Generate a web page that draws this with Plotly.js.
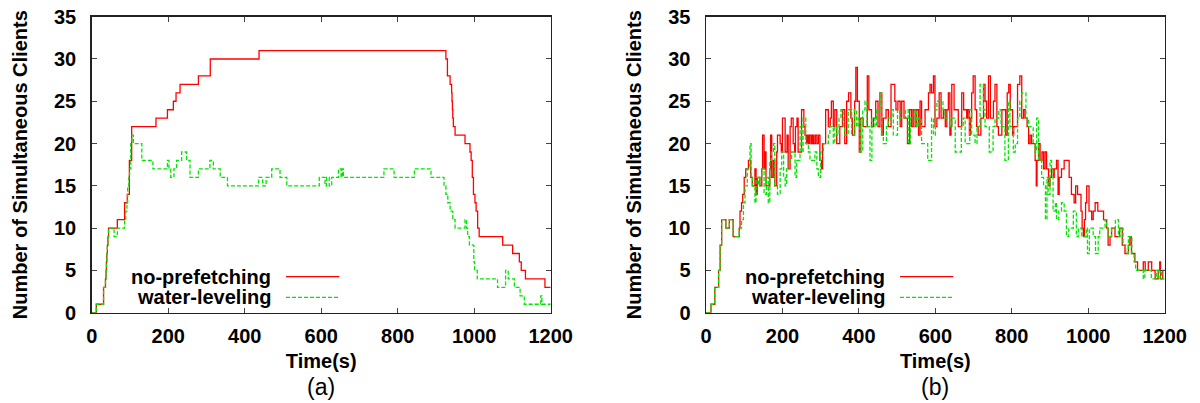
<!DOCTYPE html>
<html>
<head>
<meta charset="utf-8">
<script src="https://cdn.plot.ly/plotly-3.0.1.min.js"></script>
<style>html,body{margin:0;padding:0;background:#fff;}#chart{width:1200px;height:403px;}</style>
</head>
<body>
<div id="chart"></div>
<script>
// ---------- DATA ----------
const seriesNames = ["no-prefetching", "water-leveling"];
const panelLabels = ["(a)", "(b)"];
const xTickVals = [0, 200, 400, 600, 800, 1000, 1200];
const yTickVals = [0, 5, 10, 15, 20, 25, 30, 35];

// Panel (a) no-prefetching
const timeA_np = [0,12,31,36,37.5,38.5,39.5,41,42.5,44,67,86,93,98.5,104.5,168,198,213.5,220.5,231,279,310,437.5,926,930,937,941,942,943,944,945.5,950,976,989,992,995,998,1002,1005,1009,1013,1074.5,1100.5,1118,1123,1134,1185,1200];
const clientsA_np = [0,1,3,4,5,6,7,8,9,10,11,13,14,18,22,23,24,25,26,27,28,30,31,30,28,27,26,25,24,23,22,21,20,19,18,16,14,13,12,10,9,8,7,6,5,4,3,3];

// Panel (a) water-leveling
const timeA_wl = [0,12,31,36,37.5,38.5,39.5,41,42.5,44,58.4,67,86,89,92,94,97,99,102,105,109,131,160,198,202,206.6,215,222,235,248,257,279,309,318,336,355,436,447,456,470.6,492.4,510,595,610,614,621,627.5,645,652,655,658,764,790.5,843.6,887,921,926,931,937,944,950,976,980,983,987.5,999,1001,1008,1061,1082,1089,1105,1120,1131,1174,1177,1200];
const clientsA_wl = [0,1,3,4,5,6,7,8,9,10,9,10,11,12,13,15,16,17,20,21,20,18,17,18,17,16,17,18,19,18,16,17,18,17,16,15,16,15,16,17,16,15,16,15,16,15,16,17,16,17,16,17,16,17,16,15,14,13,12,11,10,11,10,9,8,6,5,4,3,5,4,3,2,1,2,1,1];

// Panel (b) no-prefetching
const timeB_np = [0,13,23,33,37,41,52,61,71,87,89,93,96,100,104,111,117,121,128,131,134,141,146,148,152,154,157,167,169,172,176,180,185,187,194,197,200,207,212,215,220,223,228,232,234,238,241,250,256,259,263,266,269,272,276,279,282,286,290,294,298,302,305,313,320,325,328,333,337,342,350,357,363,368,373,379,383,389,392,396,401,405,411,422,426,433,438,444,450,455,460,464,471,477,484,494,497,502,508,512,518,527,533,538,542,547,551,556,560,564,573,582,586,590,595,599,604,610,615,621,626,630,634,638,641,643,649,660,669,674,682,685,689,692,695,699,704,708,712,719,726,730,734,739,744,752,756,761,765,774,784,788,792,796,802,805,815,821,826,831,835,840,844,848,852,861,864,866,870,874,879,883,887,891,896,900,904,909,911,917,921,924,930,937,950,956,963,967,972,981,984,987,990,993,996,1002,1009,1013,1018,1025,1040,1048,1052,1057,1061,1070,1082,1089,1096,1105,1109,1113,1122,1129,1144,1149,1157,1166,1175,1183,1187,1189,1195,1200];
const clientsB_np = [0,1,3,5,8,11,10,11,9,10,12,13,14,16,17,18,16,15,17,14,16,15,17,21,17,19,15,17,21,16,18,15,19,21,20,19,23,19,21,17,22,23,20,19,22,23,19,24,22,21,20,21,20,21,20,21,20,21,20,21,18,17,20,24,22,23,25,22,24,20,22,24,20,25,26,23,21,25,29,25,19,23,22,28,24,22,23,25,22,26,21,23,24,22,27,25,24,25,22,25,23,20,24,22,24,22,24,21,25,22,24,26,27,26,28,22,23,26,23,24,22,24,26,21,22,27,24,22,26,24,23,24,21,23,26,28,24,22,21,23,27,25,23,28,23,25,27,22,21,24,21,26,27,24,21,22,27,28,23,24,23,22,20,21,20,18,15,18,20,18,19,17,19,17,15,16,17,16,17,18,14,16,17,18,16,14,13,15,14,12,10,9,11,13,15,12,11,12,13,12,11,10,8,9,10,9,10,8,7,8,9,7,6,5,6,5,6,5,4,5,6,4,5,5];

// Panel (b) water-leveling
const timeB_wl = [0,13,23,33,37,41,52,61,71,87,93,98,102,108,115,118,122,128,131,137,141,146,152,158,163,167,171,177,180,187,194,198,203,207,211,218,224,233,237,246,250,254,261,268,272,285,290,294,300,307,320,324,333,337,342,348,353,359,363,372,381,388,394,398,403,410,416,421,429,434,442,446,455,459,464,472,477,486,490,501,507,522,529,535,547,551,555,564,577,580,590,595,600,604,620,625,638,643,652,668,673,678,690,695,704,709,717,726,730,741,751,756,766,772,782,791,795,804,809,815,821,826,837,844,856,861,865,870,878,883,888,892,895,900,904,908,914,917,923,930,937,943,949,961,969,974,983,995,998,1003,1013,1019,1026,1030,1044,1048,1052,1061,1071,1079,1083,1091,1098,1105,1114,1120,1124,1144,1148,1165,1178,1183,1188,1192,1200];
const clientsB_wl = [0,1,3,5,8,11,10,11,9,10,11,13,15,17,20,16,15,13,16,15,16,17,14,16,13,18,19,20,15,14,17,19,16,15,17,18,19,16,18,22,19,23,20,19,18,19,17,16,19,20,21,22,20,22,21,23,24,22,21,24,21,24,22,23,19,24,25,22,18,23,22,24,26,21,20,22,23,24,21,24,23,24,20,23,24,22,23,20,20,18,23,21,24,25,24,23,22,23,19,22,23,20,24,21,20,22,27,24,22,19,22,23,24,22,18,25,22,19,20,23,25,26,23,22,20,19,23,18,16,15,11,16,14,18,17,12,13,11,12,13,12,9,10,12,9,10,9,10,7,10,9,7,9,10,11,10,9,10,11,9,10,8,7,9,7,6,5,4,5,4,5,4,5,4,4];

// ---------- STYLE ----------
const RED = "#ff0000", GREEN = "#00e600";
const FONT = "Liberation Sans, Arial, Helvetica, sans-serif";
const W = 1200, H = 403;
const px = v => v / W, py = v => 1 - v / H;

const panels = [
  {xd: [91.7, 550.7], legTextX: 272.7, legLine: [286, 339.3], labelX: 321},
  {xd: [706, 1164.7], legTextX: 886.7, legLine: [900, 953.3], labelX: 935}
];
const plotTop = 16.7, plotBottom = 312.7;

const data = [
  {x: timeA_np, y: clientsA_np, xaxis: "x", yaxis: "y", line: {color: RED, width: 1.3, shape: "hv"}},
  {x: timeA_wl, y: clientsA_wl, xaxis: "x", yaxis: "y", line: {color: GREEN, width: 1.3, shape: "hv", dash: "4px,2px"}},
  {x: timeB_np, y: clientsB_np, xaxis: "x2", yaxis: "y2", line: {color: RED, width: 1.3, shape: "hv"}},
  {x: timeB_wl, y: clientsB_wl, xaxis: "x2", yaxis: "y2", line: {color: GREEN, width: 1.3, shape: "hv", dash: "4px,2px"}}
].map((t, i) => Object.assign(t, {type: "scatter", mode: "lines", name: seriesNames[i % 2], showlegend: false}));

const tickFont = {family: FONT, size: 20, color: "#000", weight: "bold"};
function xAxis(p, anchor) {
  return {domain: [px(p.xd[0]), px(p.xd[1])], anchor: anchor, range: [0, 1200], tickvals: xTickVals,
    ticks: "inside", ticklen: 5, tickwidth: 1, tickcolor: "#444", showline: true, linecolor: "#222", linewidth: 1.5,
    mirror: "ticks", showgrid: false, zeroline: false, tickfont: tickFont, ticklabelstandoff: 5,
    title: {text: "Time(s)", font: {family: FONT, size: 20, color: "#000", weight: "bold"}, standoff: 8}};
}
function yAxis(p, anchor) {
  return {domain: [1 - plotBottom / H, 1 - plotTop / H], anchor: anchor, range: [0, 35], tickvals: yTickVals,
    ticks: "inside", ticklen: 5, tickwidth: 1, tickcolor: "#444", showline: true, linecolor: "#222", linewidth: 1.5,
    mirror: "ticks", showgrid: false, zeroline: false, tickfont: tickFont, ticklabelstandoff: 10,
    title: {text: "Number of Simultaneous Clients", font: {family: FONT, size: 20, color: "#000", weight: "bold"}, standoff: 21}};
}

const annotations = [], shapes = [];
const legY = [276.7, 297.3];
panels.forEach((p, pi) => {
  const xref = "paper", yref = "paper";
  seriesNames.forEach((nm, si) => {
    annotations.push({text: nm, xref, yref, x: px(p.legTextX), y: py(legY[si]), xanchor: "right", yanchor: "middle",
      showarrow: false, font: {family: FONT, size: 20, color: "#000", weight: "bold"}});
    shapes.push({type: "line", xref, yref, x0: px(p.legLine[0]), x1: px(p.legLine[1]), y0: py(legY[si]), y1: py(legY[si]),
      line: {color: si === 0 ? RED : GREEN, width: 1.3, dash: si === 0 ? "solid" : "4px,2px"}});
  });
  annotations.push({text: panelLabels[pi], xref, yref, x: px(p.labelX), y: py(387), xanchor: "center", yanchor: "middle",
    showarrow: false, font: {family: FONT, size: 23, color: "#000"}});
});

const layout = {
  width: W, height: H, margin: {l: 0, r: 0, t: 0, b: 0}, paper_bgcolor: "#fff", plot_bgcolor: "#fff",
  showlegend: false,
  xaxis: xAxis(panels[0], "y"), yaxis: yAxis(panels[0], "x"),
  xaxis2: xAxis(panels[1], "y2"), yaxis2: yAxis(panels[1], "x2"),
  annotations, shapes
};
Plotly.newPlot("chart", data, layout, {staticPlot: true, displayModeBar: false});
</script>
</body>
</html>
